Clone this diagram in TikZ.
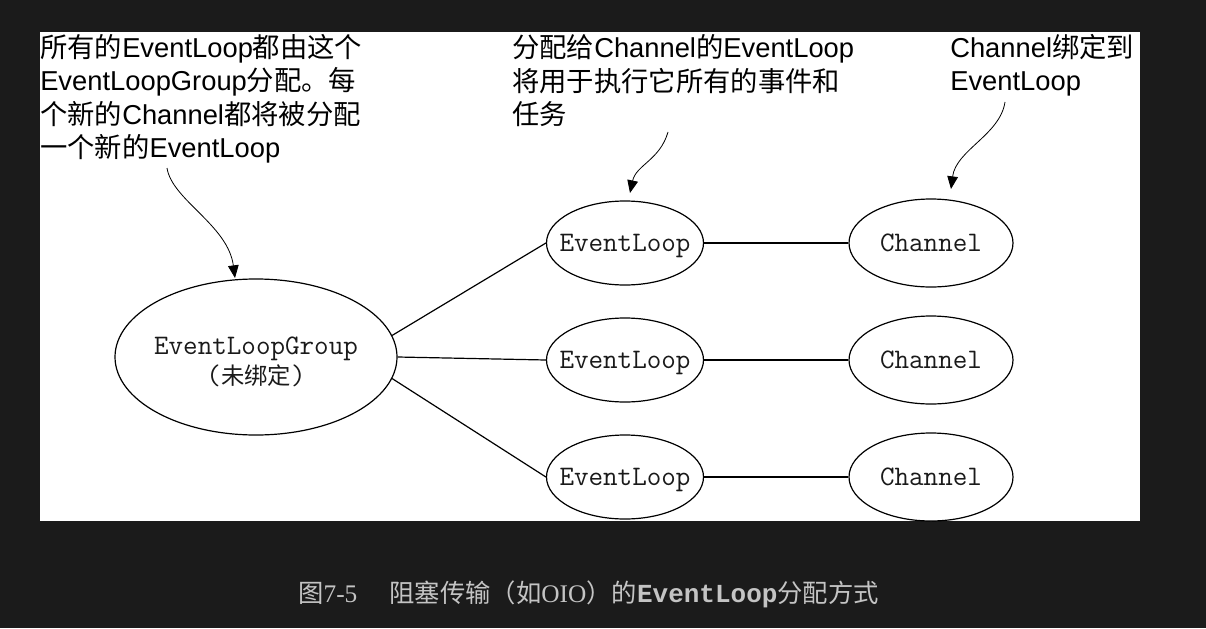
\documentclass[tikz,border=0pt]{standalone}
\usepackage{fontspec}
\setmainfont{Liberation Sans}
\newfontfamily\cjk{Noto Sans CJK SC}
\newfontfamily\capserif{Liberation Serif}
\newfontfamily\capmono{Liberation Mono}
\usetikzlibrary{shapes.geometric,arrows.meta}
\definecolor{bg}{HTML}{1B1B1B}
\definecolor{captxt}{HTML}{C4C4C4}
\definecolor{inktxt}{HTML}{1A1A1A}
\newcommand\zh[1]{{\cjk #1}}
\begin{document}
\begin{tikzpicture}[x=0.75pt,y=-0.75pt,
  ann/.style={anchor=base west, inner sep=0, font=\fontsize{20.5}{24}\selectfont, text=black},
  oval/.style={ellipse, draw=black, line width=0.9pt, fill=white, inner xsep=-40pt, inner ysep=0pt,
               font=\ttfamily\fontsize{21.2}{23}\selectfont, text=inktxt, align=center},
  elbox/.style={oval, text depth=0pt, minimum width=117.75pt, minimum height=63pt},
  chbox/.style={oval, minimum width=123pt, minimum height=66pt},
  link/.style={line width=0.9pt},
  callout/.style={line width=0.6pt, -{Triangle[length=9.5pt,width=8pt]}}]
\fill[bg] (0,0) rectangle (1206,628);
\fill[white] (40,32) rectangle (1140,521);

% annotation texts
\node[ann] (t1a) at (40,57)  {\zh{所有的}EventLoop\zh{都由这个}};
\node[ann] (t1b) at (40,90)  {EventLoopGroup\zh{分配。每}};
\node[ann] (t1c) at (40,124) {\zh{个新的}Channel\zh{都将被分配}};
\node[ann] (t1d) at (40,157) {\zh{一个新的}EventLoop};

\node[ann] (t2a) at (512,57)  {\zh{分配给}Channel\zh{的}EventLoop};
\node[ann] (t2b) at (512,91)  {\zh{将用于执行它所有的事件和}};
\node[ann] (t2c) at (512,124) {\zh{任务}};

\node[ann] (t3a) at (950,57) {Channel\zh{绑定到}};
\node[ann] (t3b) at (950,90) {EventLoop};

% ellipses
\node[oval, minimum width=211.5pt, minimum height=117pt] (grp) at (256,357)
  {\rule{0pt}{20.5pt}EventLoopGroup\\(\zh{\fontsize{17.5}{23}\selectfont 未绑定})};
\node[elbox] (el1) at (625,243) {EventLoop};
\node[elbox] (el2) at (625,360) {EventLoop};
\node[elbox] (el3) at (625,477) {EventLoop};
\node[chbox] (ch1) at (931,243) {Channel};
\node[chbox] (ch2) at (931,360) {Channel};
\node[chbox] (ch3) at (931,477) {Channel};

% links
\draw[link] (grp.9) -- (el1.west);
\draw[link] (grp.east) -- (el2.west);
\draw[link] (grp.-9) -- (el3.west);
\draw[link] (el1.east) -- (ch1.west);
\draw[link] (el2.east) -- (ch2.west);
\draw[link] (el3.east) -- (ch3.west);

% callout arrows
\coordinate (a1s) at (167,168);
\coordinate (a1e) at (235,278);
\coordinate (a2s) at (668,132);
\coordinate (a2e) at (630,193);
\coordinate (a3s) at (1005,102);
\coordinate (a3e) at (951,189);
\draw[callout] (a1s) .. controls (172,200) and (228,225) .. (a1e);
\draw[callout] (a2s) .. controls (660,160) and (636,165) .. (a2e);
\draw[callout] (a3s) .. controls (1000,135) and (956,150) .. (a3e);

% caption
\node[anchor=base west, inner sep=0, text=captxt, font=\fontsize{19}{23}\selectfont] (cap) at (298,602)
  {\zh{图}{\capserif 7-5}\hspace{24pt}\zh{阻塞传输（如}{\capserif OIO}\zh{）的}{\capmono\bfseries\fontsize{19.5}{23}\selectfont EventLoop}\zh{分配方式}};
\end{tikzpicture}
\end{document}
